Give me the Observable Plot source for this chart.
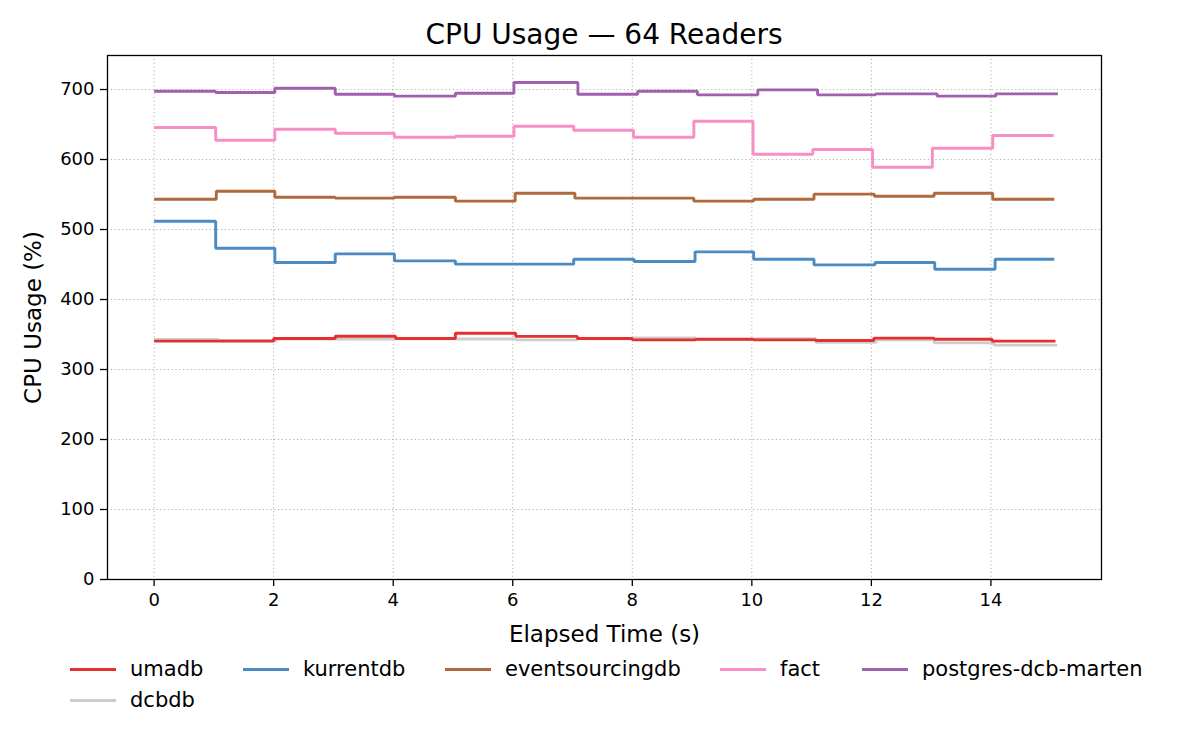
<!DOCTYPE html>
<html>
<head>
<meta charset="utf-8">
<script src="https://cdn.jsdelivr.net/npm/d3@7"></script>
<script src="https://cdn.jsdelivr.net/npm/@observablehq/plot@0.6"></script>
<style>
  html, body { margin: 0; padding: 0; background: #fff; }
  body { font-family: "DejaVu Sans", sans-serif; color: #000; }
  #wrap { position: relative; width: 1200px; height: 750px; overflow: hidden; }
  #title { position: absolute; left: 0; width: 1208px; top: 21px; text-align: center; font-size: 28px; line-height: 28px; white-space: nowrap; }
  #chart { position: absolute; left: 0; top: 50px; }
  #legend { position: absolute; left: 0; top: 0; width: 1200px; }
  .item { position: absolute; display: flex; align-items: center; height: 24px; font-size: 21px; white-space: nowrap; }
  .sw { width: 46px; height: 3px; margin-right: 14px; }
</style>
</head>
<body>
<div id="wrap">
  <div id="title">CPU Usage — 64 Readers</div>
  <div id="chart"></div>
  <div id="legend"></div>
</div>
<script>
const seriesNames = ["dcbdb", "umadb", "kurrentdb", "eventsourcingdb", "fact", "postgres-dcb-marten"];
const seriesColors = ["#cdcdcd", "#e6302f", "#4b8bc2", "#b0683d", "#f78fc6", "#a160ad"];

const tUmadb    = [0, 1.03, 2.0, 3.03, 4.04, 5.04, 6.05, 7.08, 8.0, 9.06, 10.03, 11.07, 12.04, 13.05, 14.02, 15.08];
const vUmadb    = [340.5, 340.5, 344.3, 347.6, 344.3, 351.9, 347.4, 344.3, 342.4, 343.3, 342.4, 341.4, 344.8, 343.3, 340.5, 340.5];
const tDcbdb    = [0, 1.08, 2.05, 3.05, 4.05, 5.05, 6.05, 7.08, 8.0, 9.06, 10.05, 11.07, 12.08, 13.05, 14.05, 15.11];
const vDcbdb    = [343.1, 341.5, 343.5, 343.6, 343.8, 343.6, 342.4, 344.0, 345.0, 343.0, 344.0, 338.8, 342.4, 338.1, 334.8, 334.8];
const tKurrent  = [0, 1.03, 2.02, 3.03, 4.02, 5.04, 6.04, 7.02, 8.03, 9.05, 10.03, 11.04, 12.06, 13.06, 14.07, 15.06];
const vKurrent  = [511.9, 473.3, 452.9, 465.2, 455.2, 450.5, 450.5, 457.6, 454.3, 468.1, 457.6, 449.5, 452.9, 443.3, 457.6, 457.6];
const tEsdb     = [0, 1.04, 2.02, 3.03, 4.02, 5.04, 6.04, 7.04, 8.04, 9.03, 10.03, 11.04, 12.05, 13.05, 14.03, 15.06];
const vEsdb     = [543.3, 554.7, 546.2, 544.8, 546.2, 540.5, 551.9, 544.8, 544.8, 540.5, 543.3, 550.5, 547.6, 551.9, 543.3, 543.3];
const tFact     = [0, 1.03, 2.02, 3.03, 4.02, 5.04, 6.02, 7.02, 8.02, 9.03, 10.02, 11.02, 12.02, 13.02, 14.03, 15.05];
const vFact     = [645.7, 627.6, 643.3, 637.6, 631.9, 633.3, 647.6, 641.9, 631.9, 654.7, 607.6, 614.3, 589.0, 616.2, 634.3, 634.3];
const tMarten   = [0, 1.03, 2.02, 3.03, 4.02, 5.04, 6.02, 7.09, 8.09, 9.09, 10.1, 11.1, 12.07, 13.1, 14.08, 15.12];
const vMarten   = [697.6, 695.7, 701.9, 693.3, 690.5, 694.7, 710.0, 693.3, 697.6, 692.4, 699.5, 692.4, 693.8, 690.5, 693.8, 693.8];

const xTicks = [0, 2, 4, 6, 8, 10, 12, 14];
const yTicks = [0, 100, 200, 300, 400, 500, 600, 700];
const legendOrder = ["umadb", "kurrentdb", "eventsourcingdb", "fact", "postgres-dcb-marten", "dcbdb"];

const seriesData = {
  "dcbdb": [tDcbdb, vDcbdb],
  "umadb": [tUmadb, vUmadb],
  "kurrentdb": [tKurrent, vKurrent],
  "eventsourcingdb": [tEsdb, vEsdb],
  "fact": [tFact, vFact],
  "postgres-dcb-marten": [tMarten, vMarten]
};

const rows = [];
for (const name of seriesNames) {
  const [ts, vs] = seriesData[name];
  ts.forEach((t, i) => rows.push({name, t, v: vs[i]}));
}

const gridStyle = {stroke: "#b0b0b0", strokeOpacity: 1, strokeWidth: 1, strokeDasharray: "1.2,2.6"};

const chart = Plot.plot({
  width: 1200,
  height: 600,
  marginLeft: 107,
  marginRight: 99,
  marginTop: 5,
  marginBottom: 71,
  style: {fontFamily: "DejaVu Sans", fontSize: "18px", color: "#000", background: "#fff"},
  x: {domain: [-0.78, 15.85]},
  y: {domain: [0, 748.6]},
  color: {domain: seriesNames, range: seriesColors},
  marks: [
    Plot.gridX(xTicks, gridStyle),
    Plot.gridY(yTicks, gridStyle),
    Plot.line(rows, {x: "t", y: "v", z: "name", stroke: "name", curve: "step-after", strokeWidth: 2.9, strokeLinejoin: "miter", strokeLinecap: "butt"}),
    Plot.frame({stroke: "#000", strokeWidth: 1.3}),
    Plot.axisX(xTicks, {tickSize: 7, tickPadding: 7, label: null, stroke: "#000", strokeWidth: 1.3, fontSize: 18, tickFormat: d => String(d)}),
    Plot.axisY(yTicks, {tickSize: 7, tickPadding: 6, label: null, stroke: "#000", strokeWidth: 1.3, fontSize: 18, tickFormat: d => String(d)}),
    Plot.text(["Elapsed Time (s)"], {frameAnchor: "bottom", dy: 55, fontSize: 23, fill: "#000", textAnchor: "middle", lineAnchor: "middle"}),
    Plot.text(["CPU Usage (%)"], {frameAnchor: "left", dx: -74, rotate: -90, fontSize: 23, fill: "#000", textAnchor: "middle", lineAnchor: "middle"})
  ]
});
document.getElementById("chart").appendChild(chart);

const legendPos = {
  "umadb": [70, 657],
  "kurrentdb": [243, 657],
  "eventsourcingdb": [445, 657],
  "fact": [720, 657],
  "postgres-dcb-marten": [862, 657],
  "dcbdb": [70, 688]
};
const legend = document.getElementById("legend");
for (const name of legendOrder) {
  const color = seriesColors[seriesNames.indexOf(name)];
  const [lx, ly] = legendPos[name];
  const item = document.createElement("div");
  item.className = "item";
  item.style.left = lx + "px";
  item.style.top = ly + "px";
  const sw = document.createElement("span");
  sw.className = "sw";
  sw.style.background = color;
  const tx = document.createElement("span");
  tx.textContent = name;
  item.appendChild(sw);
  item.appendChild(tx);
  legend.appendChild(item);
}
</script>
</body>
</html>
